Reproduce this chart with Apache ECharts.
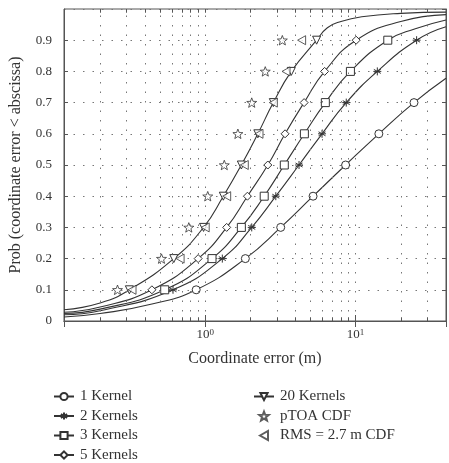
<!DOCTYPE html>
<html>
	<head>
		<meta charset="utf-8">
		<title>Coordinate error CDF</title>
		<script src="https://cdn.jsdelivr.net/npm/echarts@6/dist/echarts.min.js"></script>
	</head>
	<body style="margin:0;">
		<div id="main" style="width: 449px; height: 463px;"></div>
		<script>
			// probability levels where markers sit
			var probLevels = [0.1, 0.2, 0.3, 0.4, 0.5, 0.6, 0.7, 0.8, 0.9];

			// x (m) of each marker
			var oneKernelX    = [0.871, 1.85, 3.18, 5.22, 8.59, 14.3, 24.5];
			var twoKernelX    = [0.611, 1.30, 2.04, 2.95, 4.21, 5.99, 8.68, 13.97, 25.5];
			var threeKernelX  = [0.538, 1.11, 1.74, 2.47, 3.36, 4.57, 6.30, 9.25, 16.4];
			var fiveKernelX   = [0.442, 0.898, 1.39, 1.91, 2.61, 3.40, 4.55, 6.23, 10.1];
			var twentyKernelX = [0.313, 0.618, 0.975, 1.32, 1.74, 2.24, 2.84, 3.74, 5.51];
			var ptoaX         = [0.261, 0.512, 0.778, 1.04, 1.34, 1.65, 2.04, 2.51, 3.26];
			var rmsX          = [0.326, 0.681, 1.0, 1.39, 1.82, 2.28, 2.84, 3.45, 4.38];

			// curve tails without markers [x, prob]
			var oneKernelLow    = [[0.115, 0.013], [0.2, 0.024], [0.45, 0.055]];
			var oneKernelHigh   = [[40, 0.778]];
			var twoKernelLow    = [[0.115, 0.02], [0.2, 0.033]];
			var twoKernelHigh   = [[40, 0.943]];
			var threeKernelLow  = [[0.115, 0.024], [0.2, 0.038]];
			var threeKernelHigh = [[25, 0.937], [40, 0.965]];
			var fiveKernelLow   = [[0.115, 0.028], [0.2, 0.045]];
			var fiveKernelHigh  = [[20, 0.96], [40, 0.982]];
			var twentyKernelLow = [[0.115, 0.036], [0.2, 0.058]];
			var twentyKernelHigh= [[6.5, 0.94], [8, 0.96], [11, 0.975], [20, 0.986], [40, 0.99]];

			// dotted vertical grid and minor ticks of the log axis
			var gridX = [0.2, 0.3, 0.4, 0.5, 0.6, 0.7, 0.8, 0.9, 1, 2, 3, 4, 5, 6, 7, 8, 9, 10, 20, 30];
			var xMin = 0.115, xMax = 40;

			var ink = '#333';
			var font = 'Liberation Serif';

			function starPath() {
				var pts = [];
				for (var i = 0; i < 10; i++) {
					var r = i % 2 ? 0.42 : 1;
					var a = Math.PI / 2 + i * Math.PI / 5;
					pts.push((Math.cos(a) * r).toFixed(3) + ',' + (-Math.sin(a) * r).toFixed(3));
				}
				return 'path://M' + pts.join('L') + 'Z';
			}
			var asterisk = 'path://M0,-1L0,1M-0.87,-0.5L0.87,0.5M-0.87,0.5L0.87,-0.5M-1,0L1,0';
			var leftTriangle = 'path://M-0.8,0L0.8,-0.9L0.8,0.9Z';

			function curve(name, xs, low, high, symbol, rotate) {
				var data = [];
				low.forEach(function (p) { data.push({ value: p, symbol: 'none' }); });
				xs.forEach(function (x, i) { data.push({ value: [x, probLevels[i]] }); });
				high.forEach(function (p) { data.push({ value: p, symbol: 'none' }); });
				return {
					name: name,
					type: 'line',
					data: data,
					smooth: 0.5,
					symbol: symbol,
					symbolRotate: rotate || 0,
					symbolSize: 8,
					showAllSymbol: true,
					z: 3,
					lineStyle: { color: ink, width: 1.1 },
					itemStyle: { color: '#fff', borderColor: ink, borderWidth: 1 }
				};
			}

			var series = [
				curve('1 Kernel', oneKernelX, oneKernelLow, oneKernelHigh, 'circle'),
				curve('2 Kernels', twoKernelX, twoKernelLow, twoKernelHigh, asterisk),
				curve('3 Kernels', threeKernelX, threeKernelLow, threeKernelHigh, 'rect'),
				curve('5 Kernels', fiveKernelX, fiveKernelLow, fiveKernelHigh, 'diamond'),
				curve('20 Kernels', twentyKernelX, twentyKernelLow, twentyKernelHigh, 'triangle', 180),
				{
					name: 'pTOA CDF',
					type: 'scatter',
					symbol: starPath(),
					symbolKeepAspect: true,
					symbolSize: 10,
					z: 4,
					itemStyle: { color: '#fff', borderColor: ink, borderWidth: 1 },
					data: ptoaX.map(function (x, i) { return [x, probLevels[i]]; })
				},
				{
					name: 'RMS = 2.7 m CDF',
					type: 'scatter',
					symbol: leftTriangle,
					symbolKeepAspect: true,
					symbolSize: 9,
					z: 4,
					itemStyle: { color: '#fff', borderColor: ink, borderWidth: 1 },
					data: rmsX.map(function (x, i) { return [x, probLevels[i]]; })
				}
			];

			// grid lines and minor ticks drawn through the axis scale
			var marks = gridX.map(function (v) {
				return [{ coord: [v, 0] }, { coord: [v, 1] }];
			});
			gridX.forEach(function (v) {
				var tick = { type: 'solid', color: '#555', width: 1 };
				marks.push([{ coord: [v, 0], lineStyle: tick }, { coord: [v, 0.012] }]);
				marks.push([{ coord: [v, 0.988], lineStyle: tick }, { coord: [v, 1] }]);
			});
			series[0].markLine = {
				silent: true,
				symbol: ['none', 'none'],
				label: { show: false },
				animation: false,
				lineStyle: { type: [1.5, 8], color: '#777', width: 1 },
				data: marks
			};

			function logLabel(v) {
				var e = Math.round(Math.log(v) / Math.LN10);
				if ((e === 0 || e === 1) && Math.abs(v - Math.pow(10, e)) < 1e-6) {
					return '{b|10}{s|' + e + '}';
				}
				return '';
			}

			var legendText = { fontFamily: font, fontSize: 15, color: '#333', padding: [0, 0, 0, 1] };

			var mychart = echarts.init(document.getElementById('main'));
			var option = {
				backgroundColor: '#fff',
				animation: false,
				textStyle: { fontFamily: font, color: '#333' },
				grid: {
					left: 50, right: 3, top: 9, bottom: 142,
					show: true, borderColor: '#555', borderWidth: 1
				},
				legend: [{
					data: ['1 Kernel', '2 Kernels', '3 Kernels', '5 Kernels'],
					orient: 'vertical',
					left: 48, top: 384, height: 90,
					itemWidth: 20, itemHeight: 9, itemGap: 4.5,
					textStyle: legendText
				}, {
					data: ['20 Kernels', 'pTOA CDF', 'RMS = 2.7 m CDF'],
					orient: 'vertical',
					left: 248, top: 384, height: 90,
					itemWidth: 20, itemHeight: 9, itemGap: 4.5,
					textStyle: legendText
				}],
				xAxis: [{
					type: 'log',
					min: xMin, max: xMax,
					name: 'Coordinate error (m)',
					nameLocation: 'middle',
					nameGap: 30,
					nameTextStyle: { fontFamily: font, fontSize: 16, color: '#333' },
					axisLine: { lineStyle: { color: '#555' } },
					axisTick: { inside: true, length: 6, lineStyle: { color: '#555' } },
					splitLine: { show: false },
					axisLabel: {
						formatter: logLabel,
						margin: 7,
						showMinLabel: false, showMaxLabel: false,
						rich: {
							b: { fontFamily: font, fontSize: 13, color: '#333', verticalAlign: 'bottom' },
							s: { fontFamily: font, fontSize: 9, color: '#333', verticalAlign: 'top' }
						}
					}
				}, {
					type: 'log',
					position: 'top',
					min: xMin, max: xMax,
					axisLine: { lineStyle: { color: '#555' } },
					axisTick: { inside: true, length: 6, lineStyle: { color: '#555' } },
					axisLabel: { show: false },
					splitLine: { show: false }
				}],
				yAxis: [{
					type: 'value',
					min: 0, max: 1, interval: 0.1,
					name: 'Prob (coordinate error < abscissa)',
					nameLocation: 'middle',
					nameGap: 40,
					nameTextStyle: { fontFamily: font, fontSize: 16, color: '#333' },
					axisLine: { show: true, lineStyle: { color: '#555' } },
					axisTick: { show: true, inside: true, length: 4, lineStyle: { color: '#555' } },
					axisLabel: {
						fontFamily: font, fontSize: 13, color: '#333', margin: 12,
						showMaxLabel: false,
						formatter: function (v) { return v === 0 ? '0' : v.toFixed(1); }
					},
					splitLine: { show: true, lineStyle: { type: [1.5, 8], color: '#777', width: 1 } }
				}, {
					type: 'value',
					position: 'right',
					min: 0, max: 1, interval: 0.1,
					axisLine: { show: true, lineStyle: { color: '#555' } },
					axisTick: { show: true, inside: true, length: 4, lineStyle: { color: '#555' } },
					axisLabel: { show: false },
					splitLine: { show: false }
				}],
				series: series
			};
			mychart.setOption(option);
		</script>
	</body>
</html>
